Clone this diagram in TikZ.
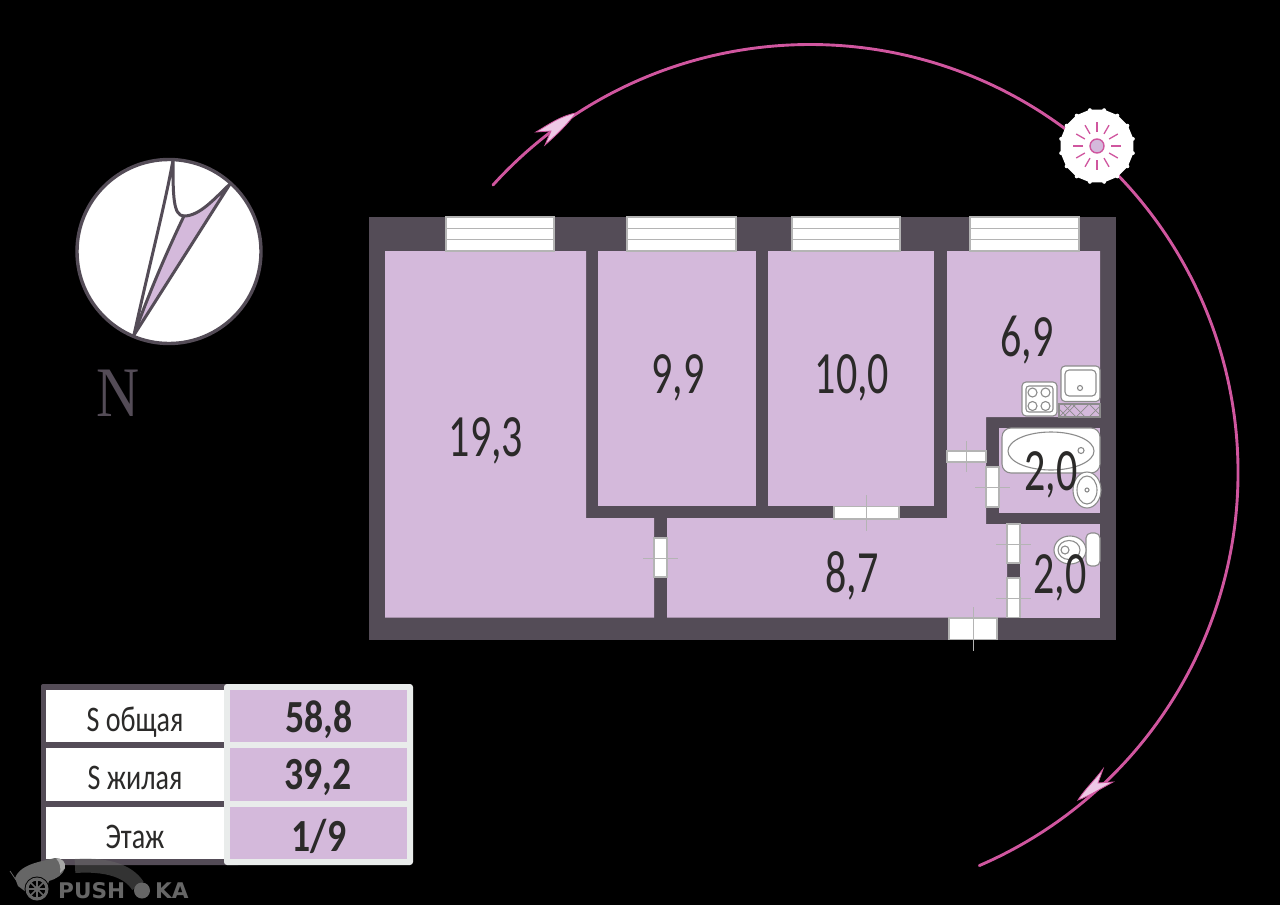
\documentclass[tikz,border=0pt]{standalone}
\usepackage{fontspec}
\newfontfamily\planfont[FakeStretch=0.7]{Carlito}
\newfontfamily\tablefont[FakeStretch=0.78]{Carlito}
\newfontfamily\valuefont[FakeStretch=0.82]{Carlito}
\newfontfamily\northfont{Liberation Serif}
\newfontfamily\markfont{DejaVu Sans}
\definecolor{wallgray}{HTML}{544C57}
\definecolor{roompurple}{HTML}{D4B9DB}
\definecolor{sunpink}{HTML}{D0569F}
\definecolor{tippink}{HTML}{EEC8E6}
\definecolor{inkgray}{HTML}{2B2A29}
\definecolor{linegray}{HTML}{B4B4B4}
\definecolor{fixgray}{HTML}{8C8C8C}
\definecolor{framegray}{HTML}{E9ECEB}
\definecolor{markgray}{HTML}{666666}

\begin{document}
\begin{tikzpicture}[x=1pt, y=-1pt,
		wall/.style={fill=wallgray},
		room/.style={fill=roompurple},
		opening/.style={fill=white, draw=linegray, line width=1.2},
		crossline/.style={draw=linegray, line width=1},
		fixture/.style={fill=white, draw=fixgray, line width=1.1},
		fixline/.style={draw=fixgray, line width=1.1},
		arcline/.style={draw=sunpink, line width=2.9},
		tipshape/.style={fill=tippink, draw=sunpink, line width=0.8, line join=miter},
		sunray/.style={draw=sunpink, line width=1.3},
		roomlabel/.style={text=inkgray, font=\planfont\fontsize{60}{60}\selectfont, inner sep=0},
		tablelabel/.style={text=inkgray, font=\tablefont\fontsize{36}{36}\selectfont, inner sep=0},
		tablevalue/.style={text=inkgray, font=\valuefont\bfseries\fontsize{46}{46}\selectfont, inner sep=0},
		marklabel/.style={text=markgray, font=\markfont\bfseries\fontsize{21.6}{21.6}\selectfont, inner sep=0, anchor=base west},
	]
		\useasboundingbox (0, 0) rectangle (1280, 905);
		\fill [black] (0, 0) rectangle (1280, 905);

		% compass
		\coordinate (compass) at (169, 251.5);
		\coordinate (needleA) at (134, 335);
		\coordinate (needleB) at (173, 160);
		\coordinate (needleC) at (230, 184);
		\coordinate (needleD) at (184, 216);
		\filldraw [fill=white, draw=wallgray, line width=3.4] (compass) circle (92);
		\fill [roompurple] (needleA) .. controls (150, 290) and (170, 245) .. (needleD) .. controls (200, 216) and (215, 198) .. (needleC) -- cycle;
		\draw [wallgray, line width=3, line join=round] (needleA) .. controls (150, 262) and (165, 205) .. (needleB) .. controls (173, 195) and (173, 216) .. (needleD) .. controls (200, 216) and (215, 198) .. (needleC) -- cycle;
		\draw [wallgray, line width=3] (needleD) .. controls (170, 245) and (150, 290) .. (needleA);
		\node (north) [text=wallgray, font=\northfont\fontsize{71}{71}\selectfont, xscale=0.84, inner sep=0] at (118, 393) {N};

		% path of the sun
		\coordinate (sunstart) at (493, 185);
		\coordinate (sun) at (1097, 146);
		\draw [arcline, line cap=round] (sunstart) arc [start angle=-137.8, end angle=66.7, radius=428];
		\draw [tipshape] (576, 113) .. controls (560, 116) and (548, 125) .. (536, 132) -- (551, 131) -- (545, 145) .. controls (555, 136) and (565, 127) .. cycle;
		\draw [tipshape] (1078, 800) .. controls (1085, 789) and (1094, 781) .. (1103, 769) -- (1098, 783) -- (1113, 782) .. controls (1100, 789) and (1089, 796) .. cycle;

		% sun
		\begin{scope}[shift={(sun)}]
			\filldraw [white, line width=2, line join=round] (11.25:36) -- (33.75:36) -- (56.25:36) -- (78.75:36) -- (101.25:36) -- (123.75:36) -- (146.25:36) -- (168.75:36) -- (191.25:36) -- (213.75:36) -- (236.25:36) -- (258.75:36) -- (281.25:36) -- (303.75:36) -- (326.25:36) -- (348.75:36) -- cycle;
			\fill [white] (11.25:36.5) circle (2) (33.75:36.5) circle (2) (56.25:36.5) circle (2) (78.75:36.5) circle (2) (101.25:36.5) circle (2) (123.75:36.5) circle (2) (146.25:36.5) circle (2) (168.75:36.5) circle (2) (191.25:36.5) circle (2) (213.75:36.5) circle (2) (236.25:36.5) circle (2) (258.75:36.5) circle (2) (281.25:36.5) circle (2) (303.75:36.5) circle (2) (326.25:36.5) circle (2) (348.75:36.5) circle (2);
			\draw [sunray] (0:14) -- (0:24);
			\draw [sunray] (30:14) -- (30:24);
			\draw [sunray] (60:14) -- (60:24);
			\draw [sunray] (90:14) -- (90:24);
			\draw [sunray] (120:14) -- (120:24);
			\draw [sunray] (150:14) -- (150:24);
			\draw [sunray] (180:14) -- (180:24);
			\draw [sunray] (210:14) -- (210:24);
			\draw [sunray] (240:14) -- (240:24);
			\draw [sunray] (270:14) -- (270:24);
			\draw [sunray] (300:14) -- (300:24);
			\draw [sunray] (330:14) -- (330:24);
			\filldraw [fill=roompurple, draw=sunpink, line width=1.4] (0, 0) circle (7);
		\end{scope}

		% walls and rooms
		\fill [wall] (369, 217) rectangle (1115.5, 639.5);
		\fill [room] (385, 251) -- (586, 251) -- (586, 518) -- (654, 518) -- (654, 617.5) -- (385, 617.5) -- cycle;
		\fill [room] (598, 251) rectangle (756, 506);
		\fill [room] (768, 251) rectangle (934, 506);
		\fill [room] (947, 251) -- (1100, 251) -- (1100, 417) -- (986, 417) -- (986, 524) -- (1007, 524) -- (1007, 617.5) -- (667, 617.5) -- (667, 518) -- (947, 518) -- cycle;
		\fill [room] (999, 428) rectangle (1100, 513);
		\fill [room] (1020, 524) rectangle (1100, 617.5);

		% windows
		\filldraw [opening] (446, 217) rectangle (554, 251);
		\draw [crossline] (446, 228) -- (554, 228);
		\draw [crossline] (446, 239.5) -- (554, 239.5);
		\filldraw [opening] (627, 217) rectangle (736, 251);
		\draw [crossline] (627, 228) -- (736, 228);
		\draw [crossline] (627, 239.5) -- (736, 239.5);
		\filldraw [opening] (792, 217) rectangle (900, 251);
		\draw [crossline] (792, 228) -- (900, 228);
		\draw [crossline] (792, 239.5) -- (900, 239.5);
		\filldraw [opening] (970, 217) rectangle (1079, 251);
		\draw [crossline] (970, 228) -- (1079, 228);
		\draw [crossline] (970, 239.5) -- (1079, 239.5);

		% doors
		\filldraw [opening] (654, 538) rectangle (667, 577);
		\draw [crossline] (643, 558) -- (678, 558);
		\filldraw [opening] (834, 506.5) rectangle (899, 519);
		\draw [crossline] (866.5, 495) -- (866.5, 531);
		\filldraw [opening] (947, 451) rectangle (986, 462);
		\draw [crossline] (966, 441) -- (966, 472);
		\filldraw [opening] (986, 467) rectangle (999, 507);
		\draw [crossline] (975, 487) -- (1010, 487);
		\filldraw [opening] (1007, 524) rectangle (1020, 563);
		\draw [crossline] (996, 544) -- (1031, 544);
		\filldraw [opening] (1007, 578) rectangle (1020, 617.5);
		\draw [crossline] (996, 598) -- (1031, 598);
		\filldraw [opening] (949, 618) rectangle (997, 639.5);
		\draw [crossline] (973, 607) -- (973, 651);

		% kitchen
		\filldraw [fixture, rounded corners=4] (1022, 382) rectangle (1057, 416);
		\draw [fixline, rounded corners=3] (1026, 386) rectangle (1053, 412);
		\draw [fixline] (1032.5, 392.5) circle (4.5);
		\draw [fixline] (1045.5, 392.5) circle (4.5);
		\draw [fixline] (1032.5, 406) circle (4.5);
		\draw [fixline] (1045.5, 406) circle (4.5);
		\filldraw [fixture, rounded corners=4] (1061, 366) rectangle (1100, 401.5);
		\draw [fixline, rounded corners=4] (1065, 370) rectangle (1096, 396);
		\draw [fixline] (1080, 388) circle (2.5);
		\draw [fixline] (1059, 404) rectangle (1100, 417);
		\draw [fixline, line width=0.7] (1059, 409) -- (1067, 417);
		\draw [fixline, line width=0.7] (1059, 417) -- (1072, 404) -- (1085, 417);
		\draw [fixline, line width=0.7] (1063, 404) -- (1076, 417) -- (1089, 404) -- (1100, 415);
		\draw [fixline, line width=0.7] (1076, 404) -- (1063, 417);
		\draw [fixline, line width=0.7] (1089, 417) -- (1100, 406);

		% bathroom
		\filldraw [fixture, rounded corners=9] (1002, 428) rectangle (1100, 473);
		\draw [fixline] (1051, 451) ellipse (43 and 19);
		\draw [fixline] (1081, 450.5) circle (3);
		\filldraw [fixture] (1087, 490) ellipse (14 and 18);
		\draw [fixline] (1087, 490) ellipse (10 and 14);
		\draw [fixline] (1087, 490) circle (2);

		% toilet
		\filldraw [fixture, rounded corners=5] (1086, 533) rectangle (1100, 566);
		\filldraw [fixture] (1070, 550) ellipse (16 and 14);
		\draw [fixline] (1069, 550) ellipse (11 and 9.5);
		\draw [fixline] (1065, 550) circle (4);

		% areas of the rooms
		\node (area1) [roomlabel] at (486, 441) {19,3};
		\node (area2) [roomlabel] at (678, 378) {9,9};
		\node (area3) [roomlabel] at (852, 378) {10,0};
		\node (area4) [roomlabel] at (1027, 340) {6,9};
		\node (area5) [roomlabel] at (1051, 475) {2,0};
		\node (area6) [roomlabel] at (852, 576) {8,7};
		\node (area7) [roomlabel] at (1060, 578) {2,0};

		% table
		\fill [wallgray, rounded corners=2] (41, 684) rectangle (240, 865);
		\fill [white] (46, 690) rectangle (224, 742);
		\fill [white] (46, 748) rectangle (224, 801);
		\fill [white] (46, 807) rectangle (224, 859);
		\fill [framegray, rounded corners=3] (224, 684) rectangle (413, 865);
		\fill [roompurple] (230, 690) rectangle (407, 742);
		\fill [roompurple] (230, 748) rectangle (407, 801);
		\fill [roompurple] (230, 807) rectangle (407, 859);
		\node (total) [tablelabel] at (135, 722) {S общая};
		\node (living) [tablelabel] at (135, 778) {S жилая};
		\node (floor) [tablelabel] at (135, 837) {Этаж};
		\node (totalval) [tablevalue] at (319, 720) {58,8};
		\node (livingval) [tablevalue] at (318, 778) {39,2};
		\node (floorval) [tablevalue] at (319, 836) {1/9};

		% mark in the corner
		\draw [markgray, opacity=0.5, line width=14] (75, 866) .. controls (105, 864) and (128, 870) .. (138, 886);
		\fill [markgray] (15, 878) .. controls (19, 868) and (30, 864) .. (42, 861) -- (55, 858) .. controls (62, 858) and (66, 862) .. (65, 868) .. controls (63, 875) and (56, 879) .. (49, 881) -- (46, 890) -- (26, 892) -- (18, 886) -- cycle;
		\fill [gray!70] (56, 858.5) .. controls (62, 858) and (66, 862) .. (65, 868) -- (60, 873) .. controls (61, 868) and (60, 862) .. cycle;
		\draw [markgray, line width=0.8] (10, 871) -- (16, 880);
		\fill [black] (37, 889) circle (12.5);
		\draw [markgray, line width=3] (37, 889) circle (10);
		\fill [markgray] (37, 889) circle (3);
		\draw [markgray, line width=1.5] (27, 889) -- (47, 889);
		\draw [markgray, line width=1.5] (37, 879) -- (37, 899);
		\draw [markgray, line width=1.5] (30, 882) -- (44, 896);
		\draw [markgray, line width=1.5] (44, 882) -- (30, 896);
		\fill [markgray] (142, 890.5) circle (8);
		\node (push) [marklabel] at (58, 898) {PUSH};
		\node (ka) [marklabel] at (155, 898) {KA};
	\end{tikzpicture}
\end{document}
